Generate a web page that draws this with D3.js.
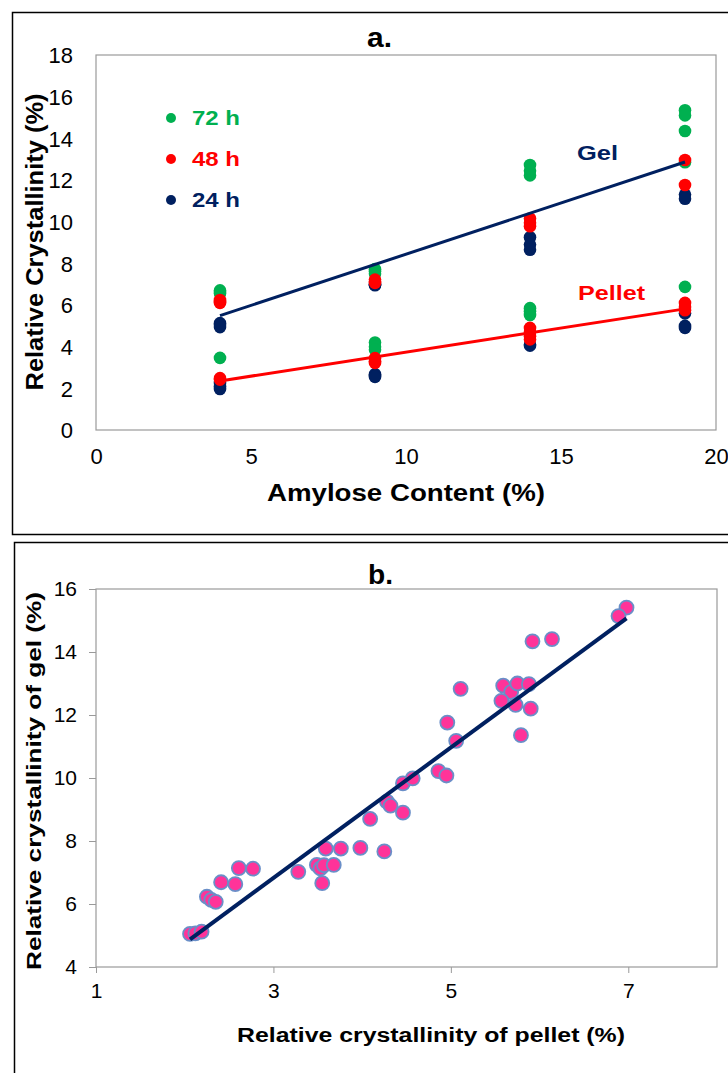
<!DOCTYPE html>
<html>
<head>
<meta charset="utf-8">
<script src="https://cdn.jsdelivr.net/npm/d3@7/dist/d3.min.js"></script>
<style>
  html, body { margin: 0; padding: 0; background: #fff; }
  svg { display: block; font-family: "Liberation Sans", Arial, sans-serif; }
</style>
</head>
<body>
<svg id="chart" width="728" height="1073"></svg>
<script>
// ---- Panel a: relative crystallinity vs amylose content ----
const amylose = [4, 9, 14, 19];
const amyloseTicks = [0, 5, 10, 15, 20];
const crystTicksA = [0, 2, 4, 6, 8, 10, 12, 14, 16, 18];

// replicate values per amylose level (same order as `amylose`)
const gel72 = [[6.70, 6.62, 6.55], [7.72, 7.62, 7.50], [12.72, 12.45, 12.22], [15.35, 15.10, 14.35, 12.85]];
const gel48 = [[6.24, 6.15, 6.10], [7.22, 7.12, 7.06], [10.15, 9.95, 9.78], [12.96, 11.76]];
const gel24 = [[5.13, 5.05, 4.94], [7.00, 6.97, 6.95], [9.25, 8.90, 8.65], [11.30, 11.10]];
const pellet72 = [[3.46], [4.20, 4.00, 3.85], [5.85, 5.70, 5.52], [6.87]];
const pellet48 = [[2.49, 2.42], [3.45, 3.30, 3.22], [4.90, 4.70, 4.50, 4.35], [6.10, 5.90, 5.75]];
const pellet24 = [[2.26, 2.10, 1.97], [2.68, 2.60, 2.55], [4.10, 4.05], [5.60, 5.00, 4.90]];

const timeLabels = ["72 h", "48 h", "24 h"];
const timeColors = ["#00b050", "#ff0000", "#002060"];

// ---- Panel b: gel vs pellet crystallinity ----
const pelletTicks = [1, 3, 5, 7];
const gelTicks = [4, 6, 8, 10, 12, 14, 16];
const pelletValues = [6.98, 6.89, 5.92, 6.14, 5.11, 5.59, 5.68, 5.75, 5.88, 5.57, 5.73, 5.90, 5.79, 4.96, 5.06,
  4.86, 4.95, 4.46, 4.57, 4.28, 4.32, 4.46, 4.09, 3.59, 3.76, 3.98, 4.25, 3.49, 3.53, 3.57, 3.68, 3.28, 3.55,
  2.61, 2.77, 2.41, 2.57, 2.25, 2.30, 2.35, 2.06, 2.12, 2.19];
const gelValues = [15.41, 15.14, 14.34, 14.41, 12.83, 12.93, 12.73, 13.00, 12.98, 12.45, 12.32, 12.20, 11.36, 11.76, 11.18,
  10.22, 10.08, 9.83, 9.99, 9.25, 9.12, 8.90, 8.70, 7.76, 7.76, 7.78, 7.67, 7.24, 7.13, 7.23, 7.24, 7.02, 6.66,
  7.14, 7.12, 6.69, 6.63, 6.23, 6.13, 6.07, 5.05, 5.07, 5.12];

// least-squares straight line through [x, y] pairs
function fitLine(pairs) {
  const mx = d3.mean(pairs, d => d[0]), my = d3.mean(pairs, d => d[1]);
  const sxy = d3.sum(pairs, d => (d[0] - mx) * (d[1] - my));
  const sxx = d3.sum(pairs, d => (d[0] - mx) ** 2);
  const slope = sxy / sxx;
  return x => my + slope * (x - mx);
}
function flatten(groups) {
  const out = [];
  groups.forEach(g => g.forEach((vals, i) => vals.forEach(v => out.push([amylose[i], v]))));
  return out;
}
// text helper: bold label stretched to a given run length
function label(sel, txt, size, len) {
  return sel.append("text").attr("font-size", size).attr("font-weight", "bold")
    .attr("textLength", len).attr("lengthAdjust", "spacingAndGlyphs").text(txt);
}

const svg = d3.select("#chart");
const frameGrey = "#9a9a9a";

// ===== Panel a =====
svg.append("rect").attr("x", 12.5).attr("y", 12.5).attr("width", 730).attr("height", 522)
  .attr("fill", "none").attr("stroke", "#000").attr("stroke-width", 1.5);

const xa = d3.scaleLinear().domain([0, 20]).range([96, 716]);
const ya = d3.scaleLinear().domain([0, 18]).range([430, 55]);

const ga = svg.append("g");
ga.append("rect").attr("x", xa(0)).attr("y", ya(18)).attr("width", xa(20) - xa(0)).attr("height", ya(0) - ya(18))
  .attr("fill", "none").attr("stroke", frameGrey).attr("stroke-width", 1.2);

const axA_x = ga.append("g").attr("transform", `translate(0,${ya(0)})`)
  .call(d3.axisBottom(xa).tickValues(amyloseTicks).tickSize(0).tickPadding(18).tickFormat(d3.format("d")));
const axA_y = ga.append("g").attr("transform", `translate(${xa(0)},0)`)
  .call(d3.axisLeft(ya).tickValues(crystTicksA).tickSize(0).tickPadding(23).tickFormat(d3.format("d")));
[axA_x, axA_y].forEach(a => {
  a.select(".domain").remove();
  a.selectAll("text").attr("font-size", 22).attr("fill", "#000").attr("font-family", "Liberation Sans, Arial, sans-serif");
});
axA_y.selectAll("text").attr("dy", "0.36em");

label(ga, "a.", 27, 25).attr("x", 367).attr("y", 47);
label(ga, "Amylose Content (%)", 23, 278).attr("x", 267).attr("y", 501);
label(ga, "Relative Crystallinity (%)", 23, 297)
  .attr("transform", `translate(43,${(ya(0) + ya(18)) / 2 + 148}) rotate(-90)`);

// trend lines over all times
const gelFit = fitLine(flatten([gel72, gel48, gel24]));
const pelletFit = fitLine(flatten([pellet72, pellet48, pellet24]));
const xMin = d3.min(amylose), xMax = d3.max(amylose);
const lineA = d3.line().x(d => xa(d[0])).y(d => ya(d[1]));

// points, 24 h underneath, 48 h on top
const seriesA = [
  { groups: [gel24, pellet24], color: timeColors[2] },
  { groups: [gel72, pellet72], color: timeColors[0] },
  { groups: [gel48, pellet48], color: timeColors[1] }
];
seriesA.forEach(s => {
  s.groups.forEach(g => {
    const pts = [];
    g.forEach((vals, i) => vals.forEach(v => pts.push([amylose[i], v])));
    ga.append("g").selectAll("circle").data(pts).join("circle")
      .attr("cx", d => xa(d[0])).attr("cy", d => ya(d[1])).attr("r", 6.3).attr("fill", s.color);
  });
});

ga.append("path").datum([[xMin, gelFit(xMin)], [xMax, gelFit(xMax)]]).attr("d", lineA)
  .attr("stroke", "#002060").attr("stroke-width", 3).attr("fill", "none");
ga.append("path").datum([[xMin, pelletFit(xMin)], [xMax, pelletFit(xMax)]]).attr("d", lineA)
  .attr("stroke", "#ff0000").attr("stroke-width", 3).attr("fill", "none");

label(ga, "Gel", 21, 41).attr("x", 577).attr("y", 160).attr("fill", "#002060");
label(ga, "Pellet", 21, 67).attr("x", 578).attr("y", 300).attr("fill", "#ff0000");

// legend
const legend = ga.append("g");
timeLabels.forEach((t, i) => {
  const y = 118 + i * 41;
  legend.append("circle").attr("cx", 171).attr("cy", y).attr("r", 5).attr("fill", timeColors[i]);
  label(legend, t, 20, 48).attr("x", 192).attr("y", y + 7).attr("fill", timeColors[i]);
});

// ===== Panel b =====
svg.append("rect").attr("x", 14.5).attr("y", 542.5).attr("width", 730).attr("height", 540)
  .attr("fill", "none").attr("stroke", "#000").attr("stroke-width", 1.5);

const xb = d3.scaleLinear().domain([1, 8]).range([96, 717]);
const yb = d3.scaleLinear().domain([4, 16]).range([967, 589]);
const gb = svg.append("g");
gb.append("rect").attr("x", xb(1)).attr("y", yb(16)).attr("width", xb(8) - xb(1)).attr("height", yb(4) - yb(16))
  .attr("fill", "none").attr("stroke", frameGrey).attr("stroke-width", 1.2);

const axB_x = gb.append("g").attr("transform", `translate(0,${yb(4)})`)
  .call(d3.axisBottom(xb).tickValues(pelletTicks).tickSize(6).tickPadding(10).tickFormat(d3.format("d")));
const axB_y = gb.append("g").attr("transform", `translate(${xb(1)},0)`)
  .call(d3.axisLeft(yb).tickValues(gelTicks).tickSize(7).tickPadding(12).tickFormat(d3.format("d")));
[axB_x, axB_y].forEach(a => {
  a.select(".domain").remove();
  a.selectAll("line").attr("stroke", frameGrey);
  a.selectAll("text").attr("font-size", 21).attr("fill", "#000").attr("font-family", "Liberation Sans, Arial, sans-serif");
});

label(gb, "b.", 27, 25).attr("x", 368).attr("y", 584);
label(gb, "Relative crystallinity of pellet (%)", 20, 388).attr("x", 237).attr("y", 1042);
label(gb, "Relative crystallinity of gel (%)", 20, 378)
  .attr("transform", `translate(41,${(yb(4) + yb(16)) / 2 + 192}) rotate(-90)`);

const pairsB = pelletValues.map((p, i) => [p, gelValues[i]]);
gb.append("g").selectAll("circle").data(pairsB).join("circle")
  .attr("cx", d => xb(d[0])).attr("cy", d => yb(d[1])).attr("r", 7)
  .attr("fill", "#ff3399").attr("stroke", "#6a8fc8").attr("stroke-width", 1.8);

const fitB = fitLine(pairsB);
const pMin = d3.min(pelletValues), pMax = d3.max(pelletValues);
gb.append("path").datum([[pMin, fitB(pMin)], [pMax, fitB(pMax)]])
  .attr("d", d3.line().x(d => xb(d[0])).y(d => yb(d[1])))
  .attr("stroke", "#002060").attr("stroke-width", 4).attr("fill", "none");
</script>
</body>
</html>
